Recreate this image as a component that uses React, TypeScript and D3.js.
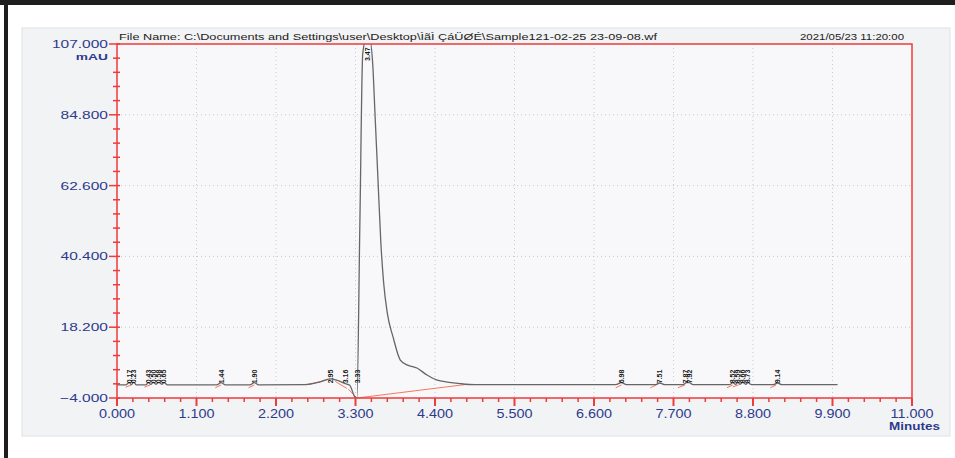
import * as d3 from "d3";
import { useEffect, useRef } from "react";

// chromatogram trace (minutes, mAU)
const traceTimes = [
  0.0, 0.12, 0.17, 0.2, 0.23, 0.27, 0.4, 0.43, 0.47, 0.5, 0.54, 0.58, 0.62, 0.65, 0.7,
  1.38, 1.44, 1.5, 1.84, 1.9, 1.96, 2.6, 2.8, 2.95, 3.05, 3.16, 3.22, 3.29, 3.32,
  3.36, 3.4, 3.44, 3.5, 3.54, 3.57, 3.61, 3.65, 3.69, 3.74, 3.82, 3.92, 4.02, 4.15,
  4.29, 4.43, 4.57, 4.75, 4.95, 6.9, 6.98, 7.05, 7.45, 7.51, 7.58, 7.83, 7.88, 7.92,
  7.97, 8.48, 8.52, 8.56, 8.59, 8.62, 8.66, 8.7, 8.73, 8.78, 9.08, 9.14, 9.2, 9.97,
];
const traceValues = [
  0.1, 0.1, 0.8, 0.2, 0.9, 0.1, 0.1, 0.8, 0.3, 0.9, 0.3, 0.9, 0.3, 0.8, 0.1,
  0.1, 0.8, 0.1, 0.1, 0.8, 0.1, 0.2, 1.0, 2.0, 1.5, 0.5, 0.0, -3.6, -4.0,
  50, 104, 108, 108, 100, 85, 65, 45, 32, 22.6, 15.1, 7.9, 6.3, 5.4,
  3.2, 1.6, 1.0, 0.5, 0.2, 0.2, 0.8, 0.2, 0.2, 0.7, 0.2, 0.2, 0.8, 0.8,
  0.2, 0.2, 0.8, 0.3, 0.9, 0.3, 0.9, 0.3, 0.8, 0.2, 0.2, 0.7, 0.2, 0.2,
];

// integrated peaks: retention time labels
const peakTimes = [
  0.17, 0.23, 0.43, 0.5, 0.58, 0.65, 1.44, 1.9, 2.95, 3.16, 3.33, 3.47,
  6.98, 7.51, 7.87, 7.92, 8.52, 8.59, 8.66, 8.73, 9.14,
];
const peakLabels = [
  "0.17", "0.23", "0.43", "0.50", "0.58", "0.65", "1.44", "1.90", "2.95", "3.16", "3.33", "3.47",
  "6.98", "7.51", "7.87", "7.92", "8.52", "8.59", "8.66", "8.73", "9.14",
];

// integration baselines: [t0, v0, t1, v1]
const baselineSegments = [
  [0.12, -0.6, 0.2, 0.1],
  [0.38, -0.6, 0.46, 0.1],
  [1.36, -0.8, 1.44, 0.1],
  [1.82, -0.8, 1.9, 0.1],
  [2.62, 0.1, 2.9, 1.6],
  [3.02, 1.2, 3.18, -1.0],
  [3.2, -1.2, 3.32, -4.0],
  [3.32, -4.0, 4.85, 0.3],
  [6.9, -0.8, 6.98, 0.1],
  [7.38, -0.8, 7.46, 0.1],
  [7.76, -0.8, 7.86, 0.1],
  [8.44, -0.8, 8.52, 0.1],
  [8.52, -0.5, 8.6, 0.1],
  [9.04, -0.8, 9.12, 0.1],
];

const xTicks = [0, 1.1, 2.2, 3.3, 4.4, 5.5, 6.6, 7.7, 8.8, 9.9, 11];
const yTicks = [-4, 18.2, 40.4, 62.6, 84.8, 107];

const W = 955;
const H = 458;
const M = { left: 117, right: 912, top: 44, bottom: 398 };

const App = () => {
  const svgRef = useRef(null);

  const drawChart = () => {
    d3.select(svgRef.current).selectAll("*").remove();
    const svg = d3.select(svgRef.current).attr("width", W).attr("height", H);

    const x = d3.scaleLinear().domain([0, 11]).range([M.left, M.right]);
    const y = d3.scaleLinear().domain([-4, 107]).range([M.bottom, M.top]);
    const blue = "#2e3a8c";
    const red = "#ee3b3b";
    const font = "'Liberation Sans', Arial, sans-serif";

    // page frame
    svg.append("rect").attr("width", W).attr("height", H).attr("fill", "#ffffff");
    svg.append("rect").attr("x", 0).attr("y", 0).attr("width", W).attr("height", 5).attr("fill", "#1e1e1e");
    svg.append("rect").attr("x", 4).attr("y", 0).attr("width", 4).attr("height", H).attr("fill", "#1e1e1e");
    svg
      .append("rect")
      .attr("x", 22)
      .attr("y", 28)
      .attr("width", 928)
      .attr("height", 408)
      .attr("fill", "#f2f3f5")
      .attr("stroke", "#e0e1e5");
    svg
      .append("rect")
      .attr("x", M.left)
      .attr("y", M.top)
      .attr("width", M.right - M.left)
      .attr("height", M.bottom - M.top)
      .attr("fill", "#f8f8fa");

    // dotted grid
    const grid = svg.append("g").attr("stroke", "#c9c9cf").attr("stroke-dasharray", "1,3").attr("stroke-width", 1);
    grid
      .selectAll("line.gx")
      .data(xTicks.slice(1, -1))
      .enter()
      .append("line")
      .attr("x1", (d) => x(d))
      .attr("x2", (d) => x(d))
      .attr("y1", M.top)
      .attr("y2", M.bottom);
    grid
      .selectAll("line.gy")
      .data(yTicks.slice(1, -1))
      .enter()
      .append("line")
      .attr("x1", M.left)
      .attr("x2", M.right)
      .attr("y1", (d) => y(d))
      .attr("y2", (d) => y(d));

    // header (the scan is stretched sideways, so widths are fitted)
    svg
      .append("text")
      .attr("x", 119)
      .attr("y", 40)
      .attr("font-family", font)
      .attr("font-size", 9)
      .attr("fill", "#222")
      .attr("textLength", 538)
      .attr("lengthAdjust", "spacingAndGlyphs")
      .text("File Name: C:\\Documents and Settings\\user\\Desktop\\ÌãÌ ÇáÜØÉ\\Sample121-02-25 23-09-08.wf");
    svg
      .append("text")
      .attr("x", 800)
      .attr("y", 40)
      .attr("font-family", font)
      .attr("font-size", 9)
      .attr("fill", "#222")
      .attr("textLength", 104)
      .attr("lengthAdjust", "spacingAndGlyphs")
      .text("2021/05/23 11:20:00");

    // integration baselines
    svg
      .append("g")
      .selectAll("line")
      .data(baselineSegments)
      .enter()
      .append("line")
      .attr("x1", (d) => x(d[0]))
      .attr("y1", (d) => y(d[1]))
      .attr("x2", (d) => x(d[2]))
      .attr("y2", (d) => y(d[3]))
      .attr("stroke", "#f07a5a")
      .attr("stroke-width", 1);

    // trace
    const pts = traceTimes.map((t, i) => [t, traceValues[i]]);
    svg
      .append("clipPath")
      .attr("id", "plotclip")
      .append("rect")
      .attr("x", M.left)
      .attr("y", M.top)
      .attr("width", M.right - M.left)
      .attr("height", M.bottom - M.top);
    svg
      .append("path")
      .datum(pts)
      .attr("clip-path", "url(#plotclip)")
      .attr("fill", "none")
      .attr("stroke", "#666")
      .attr("stroke-width", 1.3)
      .attr("d", d3.line().x((d) => x(d[0])).y((d) => y(d[1])).curve(d3.curveMonotoneX));

    // peak labels
    svg
      .append("g")
      .selectAll("text")
      .data(peakTimes)
      .enter()
      .append("text")
      .attr("transform", (d, i) => {
        const px = x(d) + 2.5;
        const py = i === 11 ? y(107) + 17 : y(0) - 2;
        return `translate(${px},${py}) rotate(-90)`;
      })
      .attr("font-family", font)
      .attr("font-size", 7)
      .attr("font-weight", "bold")
      .attr("fill", "#1a1a1a")
      .text((d, i) => peakLabels[i]);

    // frame lines
    svg
      .append("rect")
      .attr("x", M.left)
      .attr("y", M.top)
      .attr("width", M.right - M.left)
      .attr("height", M.bottom - M.top)
      .attr("fill", "none")
      .attr("stroke", red)
      .attr("stroke-width", 1.5);

    // x axis ticks
    const xMinor = d3.range(0, 50).map((i) => i * 0.22);
    svg
      .append("g")
      .selectAll("line")
      .data(xMinor)
      .enter()
      .append("line")
      .attr("x1", (d) => x(d))
      .attr("x2", (d) => x(d))
      .attr("y1", M.bottom)
      .attr("y2", (d, i) => (i % 5 === 0 ? M.bottom + 8 : M.bottom + 4))
      .attr("stroke", red)
      .attr("stroke-width", (d, i) => (i % 5 === 0 ? 2 : 1.5));
    svg
      .append("line")
      .attr("x1", M.right)
      .attr("x2", M.right)
      .attr("y1", M.bottom)
      .attr("y2", M.bottom + 8)
      .attr("stroke", red)
      .attr("stroke-width", 2);

    svg
      .append("g")
      .selectAll("text")
      .data(xTicks)
      .enter()
      .append("text")
      .attr("transform", (d) => `translate(${x(d)},418) scale(1.2,1)`)
      .attr("text-anchor", "middle")
      .attr("font-family", font)
      .attr("font-size", 12)
      .attr("fill", blue)
      .text((d) => d3.format(".3f")(d));
    svg
      .append("text")
      .attr("transform", "translate(940,430) scale(1.35,1)")
      .attr("text-anchor", "end")
      .attr("font-family", font)
      .attr("font-size", 10)
      .attr("font-weight", "bold")
      .attr("fill", blue)
      .text("Minutes");

    // y axis ticks
    const yMinor = d3.range(0, 26).map((i) => -4 + (i * 22.2) / 5);
    svg
      .append("g")
      .selectAll("line")
      .data(yMinor)
      .enter()
      .append("line")
      .attr("x1", (d, i) => (i % 5 === 0 ? M.left - 8 : M.left - 4))
      .attr("x2", M.left + 3)
      .attr("y1", (d) => y(d))
      .attr("y2", (d) => y(d))
      .attr("stroke", red)
      .attr("stroke-width", 1.5);

    svg
      .append("g")
      .selectAll("text")
      .data(yTicks)
      .enter()
      .append("text")
      .attr("transform", (d) => `translate(108,${y(d) + 4}) scale(1.35,1)`)
      .attr("text-anchor", "end")
      .attr("font-family", font)
      .attr("font-size", 11.5)
      .attr("fill", blue)
      .text((d) => d3.format(".3f")(d));
    svg
      .append("text")
      .attr("transform", "translate(108,60) scale(1.45,1)")
      .attr("text-anchor", "end")
      .attr("font-family", font)
      .attr("font-size", 9.5)
      .attr("font-weight", "bold")
      .attr("fill", blue)
      .text("mAU");
  };

  useEffect(() => {
    document.body.style.margin = "0";
    drawChart();
  }, []);

  return <svg ref={svgRef} style={{ display: "block" }}></svg>;
};

export default App;
